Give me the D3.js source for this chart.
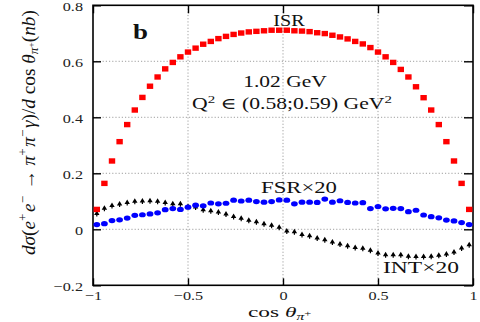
<!DOCTYPE html>
<html><head><meta charset="utf-8">
<script src="https://cdn.jsdelivr.net/npm/d3@7/dist/d3.min.js"></script>
<style>
body{margin:0;background:#fff;}
svg{display:block;font-family:"Liberation Serif","DejaVu Serif",serif;}
</style></head>
<body><svg id="c" width="480" height="322"></svg>
<script>
const cosBins = [-0.98,-0.94,-0.90,-0.86,-0.82,-0.78,-0.74,-0.70,-0.66,-0.62,-0.58,-0.54,-0.50,-0.46,-0.42,-0.38,-0.34,-0.30,-0.26,-0.22,-0.18,-0.14,-0.10,-0.06,-0.02,
  0.02,0.06,0.10,0.14,0.18,0.22,0.26,0.30,0.34,0.38,0.42,0.46,0.50,0.54,0.58,0.62,0.66,0.70,0.74,0.78,0.82,0.86,0.90,0.94,0.98];
const isr = [0.071,0.164,0.244,0.313,0.374,0.426,0.471,0.511,0.544,0.573,0.596,0.616,0.633,0.647,0.661,0.671,0.681,0.689,0.696,0.701,0.705,0.707,0.709,0.711,0.711,
  0.711,0.709,0.708,0.706,0.702,0.699,0.693,0.687,0.680,0.671,0.662,0.649,0.633,0.616,0.596,0.571,0.544,0.509,0.470,0.426,0.374,0.313,0.244,0.164,0.071];
const fsr20 = [0.017,0.020,0.031,0.034,0.040,0.050,0.052,0.055,0.059,0.070,0.074,0.071,0.079,0.086,0.084,0.094,0.091,0.093,0.104,0.101,0.104,0.099,0.097,0.099,0.105,
  0.104,0.091,0.097,0.097,0.096,0.108,0.097,0.102,0.096,0.094,0.095,0.074,0.081,0.073,0.075,0.074,0.063,0.068,0.051,0.045,0.041,0.033,0.030,0.024,0.017];
const int20 = [0.055,0.074,0.084,0.089,0.095,0.099,0.100,0.101,0.099,0.095,0.090,0.090,0.080,0.079,0.069,0.065,0.061,0.054,0.045,0.038,0.031,0.026,0.019,0.013,0.006,
  -0.007,-0.010,-0.020,-0.024,-0.032,-0.038,-0.046,-0.054,-0.060,-0.066,-0.069,-0.076,-0.086,-0.092,-0.092,-0.092,-0.097,-0.098,-0.098,-0.097,-0.094,-0.089,-0.082,-0.068,-0.056];
const xTicks = [-1,-0.5,0,0.5,1];
const yTicks = [-0.2,0,0.2,0.4,0.6,0.8];
const xGrid = [-0.5,0,0.5];
const yGrid = [0,0.2,0.4,0.6];

const svg = d3.select("#c");
const L=93,R=473,T=5.3,B=285.3;
const x = d3.scaleLinear().domain([-1,1]).range([L,R]);
const y = d3.scaleLinear().domain([-0.2,0.8]).range([B,T]);
const SX = 1.2; // horizontal stretch of the reference glyphs

// grid
svg.append("g").selectAll("line").data(xGrid).join("line")
  .attr("x1",d=>x(d)).attr("x2",d=>x(d)).attr("y1",T).attr("y2",B)
  .attr("stroke","#888").attr("stroke-width",0.8).attr("stroke-dasharray","1.2,2");
svg.append("g").selectAll("line").data(yGrid).join("line")
  .attr("y1",d=>y(d)).attr("y2",d=>y(d)).attr("x1",L).attr("x2",R)
  .attr("stroke","#888").attr("stroke-width",0.8).attr("stroke-dasharray","1.2,2");

// axes
const fmt = d3.format("");
const gl = svg.append("g").attr("transform",`translate(${L},0)`)
  .call(d3.axisLeft(y).tickValues(yTicks).tickSize(-8).tickPadding(10).tickFormat(d=>fmt(+d.toFixed(1))));
const gb = svg.append("g").attr("transform",`translate(0,${B})`)
  .call(d3.axisBottom(x).tickValues(xTicks).tickSize(-7).tickPadding(6).tickFormat(fmt));
const gr = svg.append("g").attr("transform",`translate(${R},0)`)
  .call(d3.axisRight(y).tickValues(yTicks).tickSize(-9).tickFormat(""));
const gt = svg.append("g").attr("transform",`translate(0,${T})`)
  .call(d3.axisTop(x).tickValues(xTicks).tickSize(-8).tickFormat(""));
[gl,gb,gr,gt].forEach(g=>{
  g.select(".domain").remove();
  g.selectAll(".tick line").attr("stroke","#000").attr("stroke-width",1.4);
  g.attr("font-family","Liberation Serif, serif").attr("font-size",13.5);
  g.selectAll("text").attr("fill","#222");
});
gl.selectAll("text").attr("x",-10/SX).attr("dy","0.36em").attr("transform",`scale(${SX},1)`);
gb.selectAll("text").attr("dy","0.68em").attr("transform",`scale(${SX},1)`);
svg.append("rect").attr("x",L).attr("y",T).attr("width",R-L).attr("height",B-T)
  .attr("fill","none").attr("stroke","#000").attr("stroke-width",1.6);

// markers
const tri = "M0,-3.3L2.7,1.2L0.6,1.2L0.6,2.7L-0.6,2.7L-0.6,1.2L-2.7,1.2Z";
svg.append("g").selectAll("path").data(cosBins).join("path")
  .attr("d",tri).attr("transform",(d,i)=>`translate(${x(d)},${y(int20[i])})`).attr("fill","#000");
svg.append("g").selectAll("ellipse").data(cosBins).join("ellipse")
  .attr("cx",d=>x(d)).attr("cy",(d,i)=>y(fsr20[i])).attr("rx",3.4).attr("ry",2.6).attr("fill","#0000ff");
svg.append("g").selectAll("rect").data(cosBins).join("rect")
  .attr("x",d=>x(d)-3.2).attr("y",(d,i)=>y(isr[i])-2.7).attr("width",6.4).attr("height",5.4).attr("fill","#ff0000");

// texts: measured then stretched to the reference width
function label(xx,yy,w,size,build,weight){
  const t = svg.append("text").attr("font-size",size).attr("fill","#111");
  if(weight) t.attr("font-weight",weight);
  build(t);
  const w0 = t.node().getBBox().width;
  t.attr("transform",`translate(${xx},${yy}) scale(${w/w0},1)`);
  return t;
}
label(133,39,15,22,t=>t.text("b"),"bold");
label(273.3,25.5,31.7,16,t=>t.text("ISR"));
label(243.3,86.5,84,16,t=>t.text("1.02 GeV"));
label(192,109.3,200,16,t=>{
  t.append("tspan").text("Q");
  t.append("tspan").attr("font-size",11).attr("dy",-6).text("2");
  t.append("tspan").attr("dy",6).text(" ∈ (0.58;0.59) GeV");
  t.append("tspan").attr("font-size",11).attr("dy",-6).text("2");
});
label(261,192.7,76,16,t=>t.text("FSR×20"));
label(383,273.3,76,16,t=>t.text("INT×20"));
label(248,317,64,15,t=>{
  t.append("tspan").text("cos ");
  t.append("tspan").attr("font-style","italic").text("θ");
  t.append("tspan").attr("font-style","italic").attr("font-size",10).attr("dy",3).text("π");
  t.append("tspan").attr("font-size",8).attr("dy",-4).text("+");
});

// y title
const yt = svg.append("text").attr("font-size",16).attr("fill","#111");
const it = (s)=>yt.append("tspan").attr("font-style","italic").text(s);
const sup = (s)=>{yt.append("tspan").attr("font-size",11).attr("dy",-7).text(s); yt.append("tspan").attr("dy",7).text("\u200A");};
it("dσ"); yt.append("tspan").text("("); it("e"); sup("+"); it("e"); sup("−");
yt.append("tspan").text(" → "); it("π"); sup("+"); it("π"); sup("−"); it("γ");
yt.append("tspan").text(")/"); it("d"); yt.append("tspan").text(" cos "); it("θ");
yt.append("tspan").attr("font-style","italic").attr("font-size",11).attr("dy",3).text("π");
yt.append("tspan").attr("font-size",8).attr("dy",-4).text("+");
yt.append("tspan").attr("dy",1).text("(");
it("nb"); yt.append("tspan").text(")");
const yw0 = yt.node().getBBox().width;
yt.attr("transform",`translate(35,255) rotate(-90) scale(${245/yw0},1.15)`);
</script></body></html>
